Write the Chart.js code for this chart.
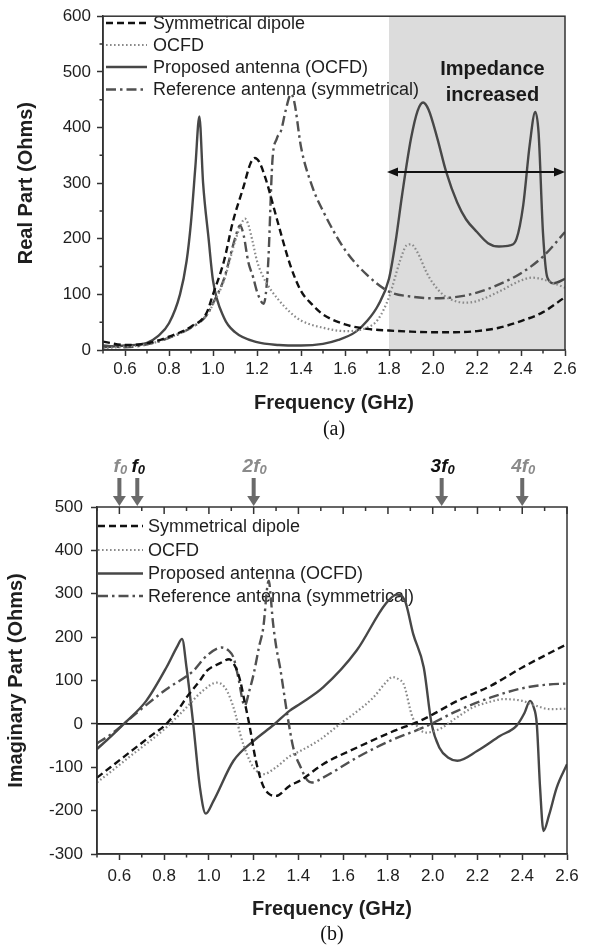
<!DOCTYPE html>
<html>
<head>
<meta charset="utf-8">
<title>Antenna impedance</title>
<script src="https://cdn.jsdelivr.net/npm/chart.js@4.4.1/dist/chart.umd.min.js"></script>
<style>
  html, body { margin: 0; padding: 0; background: #fff; }
  #wrap { position: relative; width: 590px; height: 947px; }
  canvas { position: absolute; left: 0; }
  #realChart { top: 0; }
  #imagChart { top: 440px; }
</style>
</head>
<body>
<div id="wrap">
  <canvas id="realChart" width="590" height="440"></canvas>
  <canvas id="imagChart" width="590" height="507"></canvas>
</div>
<script>
// series names (same in both panels)
const seriesLabels = ['Symmetrical dipole', 'OCFD', 'Proposed antenna (OCFD)', 'Reference antenna (symmetrical)'];

// (a) real part, Ohms
const realSymF  = [0.5,0.6,0.7,0.8,0.9,0.97,1.0,1.05,1.09,1.14,1.17,1.19,1.21,1.24,1.29,1.35,1.4,1.45,1.5,1.6,1.7,1.8,1.9,2.0,2.1,2.2,2.3,2.4,2.5,2.6];
const realSym   = [15,9,12,24,42,66,100,160,230,295,335,345,338,307,236,154,106,82,64,46,38,35,33,32,32,34,40,52,68,95];
const realOcfdF = [0.5,0.6,0.7,0.8,0.9,0.97,1.0,1.05,1.1,1.13,1.145,1.16,1.18,1.2,1.23,1.26,1.29,1.35,1.4,1.5,1.6,1.7,1.75,1.8,1.85,1.88,1.9,1.93,1.97,2.0,2.05,2.1,2.15,2.2,2.3,2.4,2.45,2.5,2.6];
const realOcfd  = [3,6,10,22,40,62,82,125,195,228,236,226,195,160,130,110,94,68,53,40,34,40,55,95,160,188,190,175,140,120,98,88,85,88,105,125,130,127,112];
const realPropF = [0.5,0.6,0.7,0.75,0.8,0.85,0.88,0.9,0.92,0.938,0.955,0.98,1.0,1.05,1.1,1.2,1.3,1.4,1.5,1.57,1.65,1.7,1.75,1.8,1.83,1.86,1.9,1.93,1.955,1.98,2.02,2.06,2.11,2.15,2.2,2.25,2.3,2.35,2.38,2.41,2.44,2.465,2.48,2.5,2.52,2.55,2.6];
const realProp  = [5,8,13,25,48,100,160,230,330,420,300,200,125,58,32,14,9,8,11,18,33,52,80,128,195,280,380,430,445,432,380,320,265,235,212,192,186,188,200,260,370,428,390,210,130,120,128];
const realRefF  = [0.5,0.6,0.7,0.8,0.9,0.97,1.0,1.05,1.1,1.123,1.14,1.16,1.183,1.2,1.23,1.25,1.27,1.29,1.31,1.33,1.355,1.37,1.4,1.45,1.5,1.6,1.7,1.8,1.9,2.0,2.1,2.2,2.3,2.4,2.5,2.6];
const realRef   = [8,5,10,22,40,62,84,128,200,224,205,159,130,105,83,150,340,380,395,430,460,445,365,295,250,180,135,105,96,93,95,103,118,138,168,212];

// (b) imaginary part, Ohms
const imagSymF  = [0.5,0.56,0.62,0.66,0.74,0.81,0.87,0.9,0.96,0.99,1.05,1.09,1.12,1.14,1.16,1.18,1.21,1.24,1.27,1.3,1.36,1.41,1.51,1.66,1.81,1.96,2.11,2.26,2.4,2.6];
const imagSym   = [-124,-100,-76,-60,-28,0,38,61,100,122,140,149,130,99,50,0,-85,-140,-162,-166,-143,-130,-93,-55,-20,11,53,88,130,184];
const imagOcfdF = [0.5,0.58,0.66,0.74,0.81,0.9,0.97,1.035,1.07,1.094,1.12,1.14,1.17,1.2,1.243,1.3,1.36,1.41,1.5,1.586,1.66,1.735,1.79,1.82,1.85,1.87,1.91,1.97,2.03,2.1,2.18,2.25,2.315,2.4,2.46,2.525,2.6];
const imagOcfd  = [-135,-103,-70,-38,-8,38,75,95,85,61,20,-24,-70,-101,-116,-100,-75,-62,-35,0,28,61,95,108,102,92,15,-20,-12,12,38,50,57,53,42,34,35];
const imagPropF = [0.5,0.56,0.62,0.72,0.81,0.86,0.88,0.9,0.93,0.96,0.986,1.02,1.11,1.2,1.29,1.36,1.41,1.51,1.66,1.79,1.84,1.876,1.913,1.96,1.995,2.03,2.07,2.11,2.2,2.3,2.375,2.41,2.435,2.45,2.465,2.48,2.495,2.52,2.554,2.6];
const imagProp  = [-58,-30,0,53,130,180,196,130,0,-147,-207,-178,-85,-39,-2,30,47,84,169,277,298,284,207,130,0,-55,-78,-85,-62,-28,-4,25,53,40,0,-150,-247,-210,-147,-93];
const imagRefF  = [0.5,0.56,0.62,0.7,0.81,0.93,0.99,1.057,1.09,1.11,1.13,1.16,1.18,1.2,1.225,1.243,1.262,1.268,1.275,1.285,1.3,1.318,1.35,1.377,1.41,1.44,1.46,1.51,1.66,1.81,1.96,2.11,2.26,2.4,2.5,2.6];
const imagRef   = [-45,-25,0,35,80,122,157,176,168,153,110,42,75,115,180,222,320,330,300,240,180,130,22,-55,-100,-130,-135,-124,-78,-39,-8,30,61,82,90,93];

// annotations
const shadeFrom = 1.8;       // GHz, start of "impedance increased" band
const bandArrowAt = 320;     // Ohms
const harmonicF   = [0.6, 0.68, 1.2, 2.04, 2.4];
const harmonicPre = ['', '', '2', '3', '4'];
const harmonicDark = [false, true, false, true, false];

const axisColor = '#333';
const textColor = '#1e1e1e';
const FONT = '"Liberation Sans", Arial, Helvetica, sans-serif';
Chart.defaults.font.family = FONT;
Chart.defaults.color = textColor;

const styles = [
  { color: '#111', width: 2.4, dash: [7, 4] },
  { color: '#8a8a8a', width: 2.2, dash: [1.6, 2.4] },
  { color: '#474747', width: 2.4, dash: [] },
  { color: '#505050', width: 2.4, dash: [10, 4, 2.5, 4] }
];

function isMajorX(v) { return Math.round(v * 10) % 2 === 0; }

function lineDataset(i, fs, vs) {
  const st = styles[i];
  return {
    label: seriesLabels[i],
    data: fs.map((f, k) => ({ x: f, y: vs[k] })),
    borderColor: st.color,
    borderWidth: st.width,
    borderDash: st.dash,
    borderCapStyle: 'butt',
    pointRadius: 0,
    fill: false,
    cubicInterpolationMode: 'monotone'
  };
}

function axes(yMin, yMax, yTitle, geo) {
  return {
    x: {
      type: 'linear', min: 0.5, max: 2.6,
      afterFit: s => { s.height = geo.xHeight; },
      ticks: {
        stepSize: 0.1, autoSkip: false, maxRotation: 0, padding: geo.xPad,
        color: textColor, font: { size: 17 },
        callback: v => isMajorX(v) ? v.toFixed(1) : ''
      },
      grid: {
        drawOnChartArea: false, tickLength: 6, tickWidth: 1.5,
        tickColor: c => (c.tick && isMajorX(c.tick.value)) ? axisColor : 'rgba(0,0,0,0)'
      },
      border: { display: true, color: axisColor, width: 1.5 },
      title: {
        display: true, text: 'Frequency (GHz)', color: textColor,
        font: { size: 20, weight: 'bold' }, padding: { top: 0, bottom: geo.xTitlePad }
      }
    },
    y: {
      min: yMin, max: yMax,
      afterFit: s => { s.width = geo.yWidth; },
      ticks: {
        stepSize: 50, padding: geo.yPad, color: textColor, font: { size: 17 },
        callback: v => v % 100 === 0 ? String(v) : ''
      },
      grid: {
        drawOnChartArea: false, tickLength: 6, tickWidth: 1.5,
        tickColor: c => (c.tick && c.tick.value % 100 === 0) ? axisColor : 'rgba(0,0,0,0)'
      },
      border: { display: true, color: axisColor, width: 1.5 },
      title: {
        display: true, text: yTitle, color: textColor,
        font: { size: 20, weight: 'bold' }, padding: { top: geo.yTitlePad, bottom: 0 }
      }
    }
  };
}

function drawLegend(chart, x1, x2, textX, rows) {
  const ctx = chart.ctx;
  ctx.save();
  ctx.font = '18px ' + FONT;
  ctx.textBaseline = 'middle';
  chart.data.datasets.forEach((ds, i) => {
    const y = rows[i];
    ctx.beginPath();
    ctx.setLineDash(ds.borderDash);
    ctx.strokeStyle = ds.borderColor;
    ctx.lineWidth = ds.borderWidth;
    ctx.moveTo(x1, y);
    ctx.lineTo(x2, y);
    ctx.stroke();
    ctx.setLineDash([]);
    ctx.fillStyle = textColor;
    ctx.fillText(ds.label, textX, y + 1);
  });
  ctx.restore();
}

function drawFrame(chart, topTicks) {
  const { ctx, chartArea: a, scales: { x, y } } = chart;
  ctx.save();
  ctx.strokeStyle = axisColor;
  ctx.lineWidth = 1.5;
  ctx.strokeRect(a.left, a.top, a.right - a.left, a.bottom - a.top);
  ctx.beginPath();
  x.ticks.forEach(t => {
    const px = x.getPixelForValue(t.value);
    if (!isMajorX(t.value)) { ctx.moveTo(px, a.bottom); ctx.lineTo(px, a.bottom + 3.5); }
    if (topTicks) { ctx.moveTo(px, a.top); ctx.lineTo(px, a.top + (isMajorX(t.value) ? 7 : 4)); }
  });
  y.ticks.forEach(t => {
    if (t.value % 100 === 0) return;
    const py = y.getPixelForValue(t.value);
    ctx.moveTo(a.left, py); ctx.lineTo(a.left - 3.5, py);
  });
  ctx.stroke();
  ctx.restore();
}

function drawCaption(chart, text, y) {
  const ctx = chart.ctx, a = chart.chartArea;
  ctx.save();
  ctx.font = '20px "Liberation Serif", "Times New Roman", serif';
  ctx.fillStyle = '#111';
  ctx.textAlign = 'center';
  ctx.textBaseline = 'middle';
  ctx.fillText(text, (a.left + a.right) / 2, y);
  ctx.restore();
}

const realDecor = {
  id: 'realDecor',
  beforeDatasetsDraw(chart) {
    const { ctx, chartArea: a, scales: { x } } = chart;
    ctx.save();
    ctx.fillStyle = '#dcdcdc';
    const sx = x.getPixelForValue(shadeFrom);
    ctx.fillRect(sx, a.top, a.right - sx, a.bottom - a.top);
    ctx.restore();
    drawLegend(chart, 106, 147, 153, [23, 45, 67, 89.5]);
  },
  afterDatasetsDraw(chart) {
    const { ctx, chartArea: a, scales: { x, y } } = chart;
    drawFrame(chart, false);
    // double arrow across the band
    const x1 = x.getPixelForValue(shadeFrom) - 2, x2 = a.right, ay = y.getPixelForValue(bandArrowAt);
    ctx.save();
    ctx.strokeStyle = '#111';
    ctx.fillStyle = '#111';
    ctx.lineWidth = 2;
    ctx.beginPath();
    ctx.moveTo(x1 + 6, ay); ctx.lineTo(x2 - 6, ay);
    ctx.stroke();
    ctx.beginPath();
    ctx.moveTo(x1, ay); ctx.lineTo(x1 + 11, ay - 4.5); ctx.lineTo(x1 + 11, ay + 4.5); ctx.closePath();
    ctx.moveTo(x2, ay); ctx.lineTo(x2 - 11, ay - 4.5); ctx.lineTo(x2 - 11, ay + 4.5); ctx.closePath();
    ctx.fill();
    ctx.font = 'bold 20px ' + FONT;
    ctx.textAlign = 'center';
    ctx.textBaseline = 'middle';
    ctx.fillStyle = '#1a1a1a';
    const tx = x.getPixelForValue(2.27);
    ctx.fillText('Impedance', tx, 69);
    ctx.fillText('increased', tx, 95);
    ctx.restore();
    drawCaption(chart, '(a)', 430);
  }
};

const imagDecor = {
  id: 'imagDecor',
  beforeDatasetsDraw(chart) {
    const { ctx, chartArea: a, scales: { y } } = chart;
    drawLegend(chart, a.left + 1, 143, 148, [86, 110, 133.5, 156]);
    ctx.save();
    ctx.strokeStyle = '#111';
    ctx.lineWidth = 1.6;
    ctx.beginPath();
    const zy = y.getPixelForValue(0);
    ctx.moveTo(a.left, zy); ctx.lineTo(a.right, zy);
    ctx.stroke();
    ctx.restore();
  },
  afterDatasetsDraw(chart) {
    const { ctx, chartArea: a, scales: { x } } = chart;
    drawFrame(chart, true);
    ctx.save();
    harmonicF.forEach((f, i) => {
      const px = x.getPixelForValue(f);
      // arrow
      ctx.fillStyle = '#6a6a6a';
      ctx.fillRect(px - 2, 38, 4, 20);
      ctx.beginPath();
      ctx.moveTo(px - 6.5, 56); ctx.lineTo(px + 6.5, 56); ctx.lineTo(px, a.top - 1); ctx.closePath();
      ctx.fill();
      // label like 2f0 with subscript
      const big = 'italic bold 19px ' + FONT, small = 'italic bold 13px ' + FONT;
      ctx.font = big;
      const wMain = ctx.measureText(harmonicPre[i] + 'f').width;
      ctx.font = small;
      const wSub = ctx.measureText('0').width;
      const left = px - (wMain + wSub) / 2 + 1;
      ctx.fillStyle = harmonicDark[i] ? '#111' : '#8a8a8a';
      ctx.textBaseline = 'alphabetic';
      ctx.textAlign = 'left';
      ctx.font = big;
      ctx.fillText(harmonicPre[i] + 'f', left, 32);
      ctx.font = small;
      ctx.fillText('0', left + wMain, 34);
    });
    ctx.restore();
    drawCaption(chart, '(b)', 495);
  }
};

new Chart(document.getElementById('realChart'), {
  type: 'line',
  data: {
    datasets: [
      lineDataset(0, realSymF, realSym),
      lineDataset(1, realOcfdF, realOcfd),
      lineDataset(2, realPropF, realProp),
      lineDataset(3, realRefF, realRef)
    ]
  },
  options: {
    responsive: false, animation: false,
    layout: { padding: { left: 0, right: 25, top: 11, bottom: 0 } },
    plugins: { legend: { display: false }, tooltip: { enabled: false } },
    scales: axes(0, 600, 'Real Part (Ohms)', { xHeight: 90, xPad: 3, xTitlePad: 25, yWidth: 103, yPad: 6, yTitlePad: 14 })
  },
  plugins: [realDecor]
});

new Chart(document.getElementById('imagChart'), {
  type: 'line',
  data: {
    datasets: [
      lineDataset(0, imagSymF, imagSym),
      lineDataset(1, imagOcfdF, imagOcfd),
      lineDataset(2, imagPropF, imagProp),
      lineDataset(3, imagRefF, imagRef)
    ]
  },
  options: {
    responsive: false, animation: false,
    layout: { padding: { left: 0, right: 23, top: 67, bottom: 0 } },
    plugins: { legend: { display: false }, tooltip: { enabled: false } },
    scales: axes(-300, 500, 'Imaginary Part (Ohms)', { xHeight: 93, xPad: 6, xTitlePad: 26, yWidth: 97, yPad: 8, yTitlePad: 4 })
  },
  plugins: [imagDecor]
});
</script>
</body>
</html>
